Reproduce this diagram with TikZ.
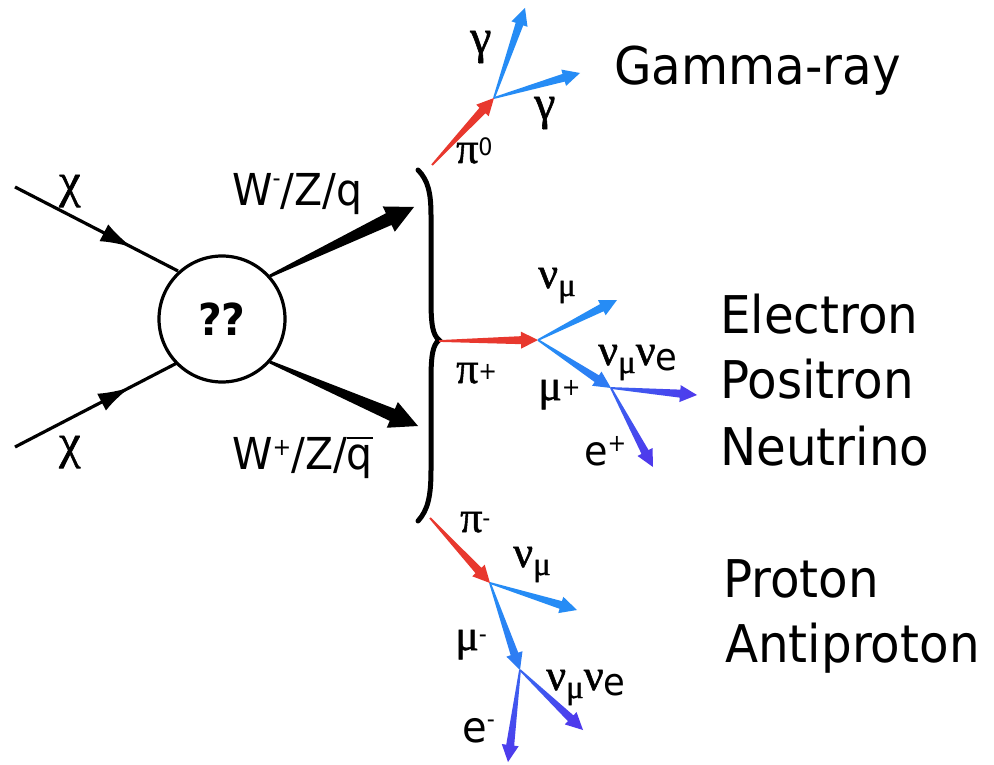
\documentclass[tikz,border=0pt]{standalone}
\usepackage{fontspec}
\setmainfont{DejaVu Sans}[FakeStretch=0.93]
\newfontfamily\grk{Liberation Serif}[FakeBold=1.2]
\usetikzlibrary{calc,arrows.meta,decorations.markings}
\definecolor{pired}{RGB}{232,56,46}
\definecolor{nublue}{RGB}{38,140,245}
\definecolor{nupurp}{RGB}{78,58,236}
\newcommand\gk[1]{{\grk\fontsize{44}{44}\selectfont #1}}
\newcommand\gkb[1]{{\grk\fontsize{48}{48}\selectfont #1}}
\newcommand\gsub[1]{\raisebox{-8pt}{\grk\fontsize{33}{33}\selectfont #1}}
\newcommand\ssup[2]{\raisebox{#2}{\fontsize{24}{24}\selectfont #1}}
\newcommand\qbar{{\setbox0\hbox{q}\rlap{\rule[30pt]{\wd0}{2.4pt}}q}}
% tapered arrow: start, tip, start colour, tip colour, start half-width, shaft half-width, head half-width, head length
\newcommand\tarrow[8]{%
  \coordinate (tmph) at ($(#2)!#8!(#1)$);
  \pgfmathanglebetweenpoints{\pgfpointanchor{#1}{center}}{\pgfpointanchor{#2}{center}}%
  \pgfmathsetmacro\tarang{\pgfmathresult-90}%
  \shade[top color=#4,bottom color=#3,shading angle=\tarang]
    ($(#1)!#5!90:(#2)$) -- ($(tmph)!#6!90:(#2)$) -- ($(tmph)!#7!90:(#2)$) -- (#2)
    -- ($(tmph)!#7!-90:(#2)$) -- ($(tmph)!#6!-90:(#2)$) -- ($(#1)!#5!-90:(#2)$) -- cycle;
}
\newcommand\carrow[5]{\tarrow{#1}{#2}{#3}{#4}{0.9pt}{#5}{8.5pt}{17pt}}
\begin{document}
\begin{tikzpicture}[x=1pt,y=-1pt,
  lab/.style={inner sep=0pt, anchor=base west},
  big/.style={inner sep=0pt, anchor=base west, font=\fontsize{52}{52}\selectfont},
  chiline/.style={line width=3.2pt, postaction={decorate},
    decoration={markings, mark=at position #1 with {\arrow{Latex[length=32pt,width=19pt]}}}}]
\useasboundingbox (0,0) rectangle (994,765);
\fill[white] (0,0) rectangle (994,765);

% central blob
\node[circle, draw, line width=3.2pt, minimum size=126pt, inner sep=0pt,
      font=\bfseries\fontsize{44}{44}\selectfont] (blob) at (222,319) {??};

% incoming chi lines
\coordinate (c1s) at (15,187);  \coordinate (c1e) at (178,271);
\coordinate (c2s) at (15,447);  \coordinate (c2e) at (177,363);
\draw[chiline=0.72] (c1s) -- (c1e);
\draw[chiline=0.71] (c2s) -- (c2e);
\node[lab] (chi1) at (59,197) {\gkb{χ}};
\node[lab] (chi2) at (59,458) {\gkb{χ}};

% outgoing W/Z/q
\coordinate (w1s) at (270,276);  \coordinate (w1t) at (414,207);
\coordinate (w2s) at (270,362);  \coordinate (w2t) at (418,426);
\tarrow{w1s}{w1t}{black}{black}{1.5pt}{6.5pt}{14pt}{28pt}
\tarrow{w2s}{w2t}{black}{black}{1.5pt}{6.5pt}{14pt}{28pt}
\node[lab, font=\fontsize{44}{44}\selectfont] (wm) at (232,206) {W\ssup{-}{20pt}/Z/q};
\node[lab, font=\fontsize{44}{44}\selectfont] (wp) at (232,469) {W\ssup{+}{14pt}/Z/\qbar};

% brace
\draw[line width=5pt, line cap=round] (418,170) .. controls (428,180) and (431,193) .. (431,215)
  -- (431,300) .. controls (431,326) and (433,335) .. (439,340)
  .. controls (433,345) and (431,354) .. (431,380)
  -- (431,470) .. controls (431,496) and (428,510) .. (418,521);

% gamma-ray branch
\coordinate (p0s) at (432,165); \coordinate (p0d) at (494,98);
\coordinate (g1t) at (525,8);   \coordinate (g2t) at (580,73);
\carrow{p0s}{p0d}{pired}{pired}{4pt}
\carrow{p0d}{g1t}{nublue}{nublue}{4pt}
\carrow{p0d}{g2t}{nublue}{nublue}{4pt}
\node[lab] (lg1) at (470,53) {\gkb{γ}};
\node[lab] (lg2) at (534,119) {\gkb{γ}};
\node[lab] (lpi0) at (456,163) {\gk{π}\ssup{0}{7pt}};
\node[big] (tgam) at (614,85) {Gamma-ray};

% pi+ branch
\coordinate (pps) at (439,341); \coordinate (ppd) at (538,340);
\coordinate (nm1t) at (617,300); \coordinate (mupd) at (611,388);
\coordinate (nn1t) at (697,395); \coordinate (ept) at (653,467);
\carrow{pps}{ppd}{pired}{pired}{4pt}
\carrow{ppd}{nm1t}{nublue}{nublue}{4pt}
\carrow{ppd}{mupd}{nublue}{nublue!80!nupurp}{4pt}
\carrow{mupd}{nn1t}{nublue!50!nupurp}{nupurp}{4pt}
\carrow{mupd}{ept}{nublue!50!nupurp}{nupurp}{4pt}
\node[lab] (lpip) at (456,383) {\gk{π}\ssup{+}{4pt}};
\node[lab] (lnm1) at (538,288) {\gk{ν}\gsub{μ}};
\node[lab] (lmup) at (538,400) {\gk{μ}\ssup{+}{5pt}};
\node[lab] (lnn1) at (598,365) {\gk{ν}\gsub{μ}\gk{ν}\raisebox{-5pt}{\fontsize{38}{38}\selectfont e}};
\node[lab, font=\fontsize{41}{41}\selectfont] (lep) at (584,465) {e\ssup{+}{14pt}};
\node[big] (tel) at (720,333) {Electron};
\node[big] (tpo) at (720,398) {Positron};
\node[big] (tne) at (720,465) {Neutrino};

% pi- branch
\coordinate (pms) at (430,518); \coordinate (pmd) at (490,583);
\coordinate (nm2t) at (577,610); \coordinate (mumd) at (520,670);
\coordinate (nn2t) at (583,730); \coordinate (emt) at (508,762);
\carrow{pms}{pmd}{pired}{pired}{4pt}
\carrow{pmd}{nm2t}{nublue}{nublue}{4pt}
\carrow{pmd}{mumd}{nublue}{nublue!80!nupurp}{4pt}
\carrow{mumd}{nn2t}{nublue!50!nupurp}{nupurp}{4pt}
\carrow{mumd}{emt}{nublue!50!nupurp}{nupurp}{4pt}
\node[lab] (lpim) at (460,532) {\gk{π}\ssup{-}{6pt}};
\node[lab] (lnm2) at (513,567) {\gk{ν}\gsub{μ}};
\node[lab] (lmum) at (455,650) {\gk{μ}\ssup{-}{8pt}};
\node[lab] (lnn2) at (546,690) {\gk{ν}\gsub{μ}\gk{ν}\raisebox{-5pt}{\fontsize{38}{38}\selectfont e}};
\node[lab, font=\fontsize{43}{43}\selectfont] (lem) at (462,742) {e\ssup{-}{15pt}};
\node[big] (tpr) at (723,597) {Proton};
\node[big] (tap) at (725,662) {Antiproton};
\end{tikzpicture}
\end{document}
